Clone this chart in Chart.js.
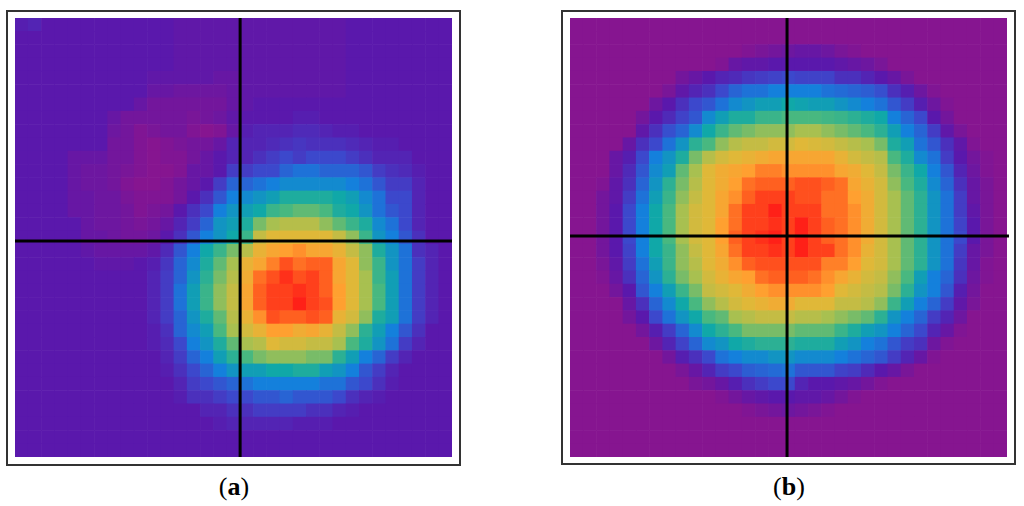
<!DOCTYPE html>
<html>
<head>
<meta charset="utf-8">
<script src="https://cdn.jsdelivr.net/npm/chart.js@4"></script>
<style>
  body { margin: 0; background: #fff; width: 1024px; height: 506px; overflow: hidden; position: relative; }
  .frame { position: absolute; border: 2px solid #333; box-sizing: border-box; }
  .holder { position: absolute; }
  .cap { position: absolute; width: 60px; text-align: center; font: 26px "Liberation Serif", serif; color: #000; }
</style>
</head>
<body>
<div class="frame" style="left:6px;top:10px;width:455px;height:456px"></div>
<div class="frame" style="left:561px;top:10px;width:455px;height:455px"></div>
<div class="holder" style="left:11px;top:14px;width:445px;height:447px"><canvas id="chartA"></canvas></div>
<div class="holder" style="left:566px;top:14px;width:445px;height:447px"><canvas id="chartB"></canvas></div>
<div class="cap" style="left:204px;top:472px">(<b>a</b>)</div>
<div class="cap" style="left:759px;top:472px">(<b>b</b>)</div>
<script>
// colour levels, 0 = magenta ... 40 = red
var heatA = [
  [4.5,5,4,4,4,4,4,4,4,4,4,4,3.5,3.5,3.5,3.5,3.5,3.5,3.5,3.5,3.5,3.5,3.5,3.5,3.5,4,4,4,4,4,4,4,4],
  [4,4,4,4,4,4,4,4,4,4,4,4,3.5,3.5,3.5,3.5,3.5,3.5,3.5,3.5,3.5,3.5,3.5,3.5,3.5,4,4,4,4,4,4,4,4],
  [4,4,4,4,4,4,4,4,4,4,4,4,3.5,3.5,3.5,3.5,3.5,3.5,3.5,3.5,3.5,3.5,3.5,3.5,3.5,4,4,4,4,4,4,4,4],
  [4,4,4,4,4,4,4,4,4,4,4,4,3.5,3.5,3.5,3.5,3.5,3.5,3.5,3.5,3.5,3.5,3.5,3.5,3.5,4,4,4,4,4,4,4,4],
  [4,4,4,4,4,4,4,4,4,4,3.5,3.5,3.5,3.5,3.5,3,3,3.5,3.5,3.5,3.5,3.5,3.5,3.5,3.5,4,4,4,4,4,4,4,4],
  [4,4,4,4,4,4,4,4,4,4,3,3,2.5,2.5,2.5,2.5,3,3.5,3.5,3.5,3.5,3.5,3.5,3.5,3.5,4,4,4,4,4,4,4,4],
  [4,4,4,4,4,4,4,4,4,3,2,2,2,2,2,2,3,3.5,4,4,4,4,4,4,4,4,4,4,4,4,4,4,4],
  [4,4,4,4,4,4,4,3,2,2,2,2,2,1.5,2,2.5,3.5,4,4,4,4,4.5,4.5,4,4,4,4,4,4,4,4,4,4],
  [4,4,4,4,4,4,4,2.5,2,1,1.5,2,2,1,0.5,1,3,4.5,5,5,5,5.5,5.5,5,4.5,4.5,4,4,4,4,4,4,4],
  [4,4,4,4,4,4,4,2,2,1,0.5,1,1.5,2,2,3,5,5,5,5.5,6,6.5,6,6,6,5.5,5,4.5,4.5,4,4,4,4],
  [4,4,4,4,3,3,3,2,2,1,0.5,1,1,2,3,4,5,5,6,7,8,7,8,8,8,7,6,5,5,5,4,4,4],
  [4,4,4,4,3,2.5,2.5,2,1.5,1,0.5,0.5,1,3,3,4,7,7,8,8,10,11,11,10,10,10,9,7,6,5.5,4.5,4,4],
  [4,4,4,4,3,2.5,2.5,2,1,0.5,0.5,1,2,3,4,7,10,10,11,12,13,13,13,13,13,12,11,9,7,7,5,4,4],
  [4,4,4,4,3,3,2.5,2.5,1.5,1,1,1,2,4,6,9,12,13,14,15,17,17,17,17,16,15,13,11,8,8,5,4,4],
  [4,4,4,4,3,3,2.5,2.5,2,1,1.5,2,4,6,8,12,14,15,16,19,20,21,21,20,17,16,14,11,9,8,5,4,4],
  [4,4,4,4,4,3,2.5,2.5,2,1.5,2,3,5,7,10,14,15,17,22,24,25,25,25,23,21,19,17,13,11,8,5,4,4],
  [4,4,4,4,4,3,3,2.5,2,2,2.5,4,6,9,12,14,16,19,26,28,28,28,28,28,26,23,19,14,12,9,6,4,4],
  [4,4,4,4,4,3.5,3,3,3,3,3.5,5.5,9,12,16,19,22,25,29,31,32,33,31,31,29,26,23,17,14,11,6,5,4],
  [4,4,4,4,4,4,3.5,3.5,3.5,4,4.5,6.5,10,13,17,21,24,29,31,34,37,35,36,36,31,28,23,19,14,11,7,5,4],
  [4,4,4,4,4,4,4,4,4,4,5,7,10,14,18,22,25,30,35,37,39,37,38,36,31,28,24,19,15,11,7,5,4],
  [4,4,4,4,4,4,4,4,4,4,5,7,11,15,19,23,26,31,36,38,38,39,38,36,32,28,24,20,15,11,7,5,4],
  [4,4,4,4,4,4,4,4,4,4,5,7,11,15,19,23,26,31,36,38,38,40,38,37,32,28,24,20,15,11,7,5,4],
  [4,4,4,4,4,4,4,4,4,4,5,7,10,14,17,21,25,29,33,37,36,36,37,36,29,27,23,17,15,11,7,5,4],
  [4,4,4,4,4,4,4,4,4,4,4.5,6,10,13,15,20,24,27,29,32,32,30,31,29,26,23,18,15,12,9,6,4,4],
  [4,4,4,4,4,4,4,4,4,4,4.5,5.5,8,12,14,17,21,24,25,28,27,27,26,26,24,20,17,14,11,7,5,4,4],
  [4,4,4,4,4,4,4,4,4,4,4,5,7,10,12,15,18,20,22,23,23,23,22,22,18,15,12,10,7,5,4,4,4],
  [4,4,4,4,4,4,4,4,4,4,4,4.5,6,8,10,12,14,15,15,16,16,17,17,15,14,12,9,7,5,4,4,4,4],
  [4,4,4,4,4,4,4,4,4,4,4,4,5,7,8,9,10,11,12,12,12,12,12,11,11,9,8,6,4.5,4,4,4,4],
  [4,4,4,4,4,4,4,4,4,4,4,4,4.5,6,6,7,8,8,9,9,10,9,9,9,8,6,5,4.5,4,4,4,4,4],
  [4,4,4,4,4,4,4,4,4,4,4,4,4,4,5,5,6,6,7,7,7,7,6,6,5,4.5,4,4,4,4,4,4,4],
  [4,4,4,4,4,4,4,4,4,4,4,4,4,4,4,4.5,5,5,5,5,5,4.5,4.5,4.5,4,4,4,4,4,4,4,4,4],
  [4,4,4,4,4,4,4,4,4,4,4,4,4,4,4,4,4,4,4,4,4,4,4,4,4,4,4,4,4,4,4,4,4],
  [4,4,4,4,4,4,4,4,4,4,4,4,4,4,4,4,4,4,4,4,4,4,4,4,4,4,4,4,4,4,4,4,4]
];
var heatB = [
  [.5,.5,.5,.5,.5,.5,.5,.5,.5,.5,.5,.5,.5,.5,.5,.5,.5,.5,.5,.5,.5,.5,.5,.5,.5,.5,.5,.5,.5,.5,.5,.5,.5],
  [.5,.5,.5,.5,.5,.5,.5,.5,.5,.5,.5,.5,.5,.5,.5,.5,.5,.5,.5,.5,.5,.5,.5,.5,.5,.5,.5,.5,.5,.5,.5,.5,.5],
  [.5,.5,.5,.5,.5,.5,.5,.5,.5,.5,.5,.5,.5,1,1.5,2,2.5,3,3,2.5,1.5,1,.5,.5,.5,.5,.5,.5,.5,.5,.5,.5,.5],
  [.5,.5,.5,.5,.5,.5,.5,.5,.5,.5,.5,1,3,3.5,3.5,4,4,4,4,4,3.5,3,2.5,1.5,.5,.5,.5,.5,.5,.5,.5,.5,.5],
  [.5,.5,.5,.5,.5,.5,.5,.5,2,3,4,5,5.5,6.5,7,7.5,8,7.5,7.5,7.5,6,6,5,4,3,1.5,.5,.5,.5,.5,.5,.5,.5],
  [.5,.5,.5,.5,.5,.5,.5,1.5,3.5,5,6,8,10,11,11,12,12,12,12,11,10.5,10,9.5,8.5,6,4.5,2.5,1,.5,.5,.5,.5,.5],
  [.5,.5,.5,.5,.5,.5,2.5,4,6,8,9,11,13,14,15,15,16,15.5,15,15,14,13,12,11,9,7,4.5,2.5,1,.5,.5,.5,.5],
  [.5,.5,.5,.5,.5,2,4,5.5,7.5,9,13,15,17,17,19,19,20,20,20,19.5,19,18,17,16,12,10,8,4,2,.5,.5,.5,.5],
  [.5,.5,.5,.5,.5,3.5,6,8.5,10,13,16,19,21,22,23,23,23,24,24,23,22,21,20,18,15,12,10,7,3.5,1.5,.5,.5,.5],
  [.5,.5,.5,.5,3,6,8,11,14,18,20,23,25,26,26,27,27,28,27.5,27,26,25,24,22,17,15,11,9,6,3.5,1,.5,.5],
  [.5,.5,.5,3,4.5,8,12,14,17,22,25,27,28,29,30,31,31,31,31,31,29,27,26,25,20,17,13,11,7,4,2,1,.5],
  [.5,.5,.5,3,5.5,9,13,15,21,24,28,30,31,32,34,34,33,33,33,33,31,30,28,26,22,19,16,12,9,5,2.5,1,.5],
  [.5,.5,1,3.5,6,10,14,18,22,25,28,30,32,35,36,36,36,37,37,36,35,31,29,27,23,20,17,13,10,6,3,1.5,.5],
  [.5,.5,2,3.5,7,11,15,19,23,26,28,31,33,36,38,38,38,37,37,35,35,32,30,27,24,21,18,14,11,7,3,1.5,.5],
  [.5,.5,2,4,8,12,16,20,24,27,28,31,35,38,38,40,38,38,38,35,35,33,30,27,24,21,18,14,11,7,3.5,1.5,.5],
  [.5,.5,2,4,8,12,16,20,24,27,28,32,35,38,38,39,38,40,38,36,35,33,30,27,24,21,18,14,11,7.5,4,1.5,.5],
  [.5,.5,2,4,8,12,16,20,24,27,28,32,36,38,39,40,38,40,38,36,35,33,30,27,24,21,18,14,11,8,4,1.5,.5],
  [.5,.5,2,4,7.5,12,16,19,23,26,28,31,35,38,38,39,38,40,38,38,35,33,29,27,24,21,18,14,11,7,3,1.5,.5],
  [.5,.5,1.5,3.5,7,11,15,19,23,25,28,30,33,36,37,37,37,37,37,34,34,32,28,27,24,21,18,14,11,6.5,3,1,.5],
  [.5,.5,1,3,6,10,14,18,22,24,27,29,31,32,35,36,36,36,35,33,31,29,27,26,23,20,15,12,10,6,2.5,1,.5],
  [.5,.5,.5,2,4,9,12,15,19,22,26,27,28,30,32,33,33,33,33,32,28,27,26,25,22,18,14,12,9,4.5,2,.5,.5],
  [.5,.5,.5,.5,3,6,10,13,16,20,23,25,27,28,29,30,30,28,28,28,26,26,25,23,19,15,12,10,7,3.5,1.5,.5,.5],
  [.5,.5,.5,.5,2,4,8,11,14,16,20,21,24,25,26,26,26,25,25,24,23,22,21,18,14,12,10,7,5,2.5,.5,.5,.5],
  [.5,.5,.5,.5,.5,2,4.5,7,10,13,16,18,20,22,22,22,22,21,21,21,19,17,15,14,12,10,8,5,3,1,.5,.5,.5],
  [.5,.5,.5,.5,.5,.5,2.5,5,7.5,10,13,14,16,17,18,18,18,17,17,17,15,14,12,11,9,7,6,2.5,1,.5,.5,.5,.5],
  [.5,.5,.5,.5,.5,.5,.5,2,4.5,6,8,11,12,13,13,14,14,13,13,13,12,11,10,9,7,5,3,1,.5,.5,.5,.5,.5],
  [.5,.5,.5,.5,.5,.5,.5,.5,1.5,3,5,7,8,9.5,10,10.5,11,9,9,9,7.5,7,5.5,4,3,1.5,.5,.5,.5,.5,.5,.5,.5],
  [.5,.5,.5,.5,.5,.5,.5,.5,.5,1.5,2,3,4.5,6,7,8,8,5,4,4,3.5,3,2,1,.5,.5,.5,.5,.5,.5,.5,.5,.5],
  [.5,.5,.5,.5,.5,.5,.5,.5,.5,.5,.5,1,2,3,3.5,4,4,3.5,3.5,3,2,1,.5,.5,.5,.5,.5,.5,.5,.5,.5,.5,.5],
  [.5,.5,.5,.5,.5,.5,.5,.5,.5,.5,.5,.5,.5,1,1.5,2,2.5,2,1.5,1,.5,.5,.5,.5,.5,.5,.5,.5,.5,.5,.5,.5,.5],
  [.5,.5,.5,.5,.5,.5,.5,.5,.5,.5,.5,.5,.5,.5,.5,.5,.5,.5,.5,.5,.5,.5,.5,.5,.5,.5,.5,.5,.5,.5,.5,.5,.5],
  [.5,.5,.5,.5,.5,.5,.5,.5,.5,.5,.5,.5,.5,.5,.5,.5,.5,.5,.5,.5,.5,.5,.5,.5,.5,.5,.5,.5,.5,.5,.5,.5,.5],
  [.5,.5,.5,.5,.5,.5,.5,.5,.5,.5,.5,.5,.5,.5,.5,.5,.5,.5,.5,.5,.5,.5,.5,.5,.5,.5,.5,.5,.5,.5,.5,.5,.5]
];
// crosshair positions in cell units: x, y, far end of the horizontal arm
var crossA = [17, 16.76, 33];
var crossB = [16.39, 16.39, 33.15];

var ramp = [[140,20,140],[90,24,172],[60,72,204],[20,128,220],[16,168,168],[72,184,128],[168,192,80],[224,184,56],[255,160,48],[255,96,32],[255,32,24]];

function levelColor(v) {
  var t = v / 4;
  var i = Math.min(Math.floor(t), ramp.length - 2);
  var f = t - i;
  var c = ramp[i].map(function (a, k) { return Math.round(a + (ramp[i + 1][k] - a) * f); });
  return 'rgb(' + c.join(',') + ')';
}

function drawPanel(id, grid, cross) {
  var cells = [];
  grid.forEach(function (row, r) {
    row.forEach(function (v, c) {
      cells.push({ x: c + 0.5, y: r + 0.5, v: v });
    });
  });
  var lineStyle = { showLine: true, borderColor: '#000', borderWidth: 3, pointRadius: 0, clip: false, order: 0 };
  new Chart(document.getElementById(id), {
    type: 'scatter',
    data: {
      datasets: [
        Object.assign({ data: [{ x: cross[0], y: 0 }, { x: cross[0], y: 33 }] }, lineStyle),
        Object.assign({ data: [{ x: 0, y: cross[1] }, { x: cross[2], y: cross[1] }] }, lineStyle),
        {
          data: cells,
          order: 1,
          pointStyle: 'rect',
          pointRadius: 9.8,
          borderWidth: 0,
          backgroundColor: function (ctx) { return levelColor(ctx.raw ? ctx.raw.v : 0); }
        }
      ]
    },
    options: {
      responsive: true,
      maintainAspectRatio: false,
      animation: false,
      events: [],
      layout: { padding: 4, autoPadding: false },
      plugins: { legend: { display: false }, tooltip: { enabled: false } },
      scales: {
        x: { type: 'linear', min: 0, max: 33, display: false },
        y: { type: 'linear', min: 0, max: 33, reverse: true, display: false }
      }
    }
  });
}

drawPanel('chartA', heatA, crossA);
drawPanel('chartB', heatB, crossB);
</script>
</body>
</html>
